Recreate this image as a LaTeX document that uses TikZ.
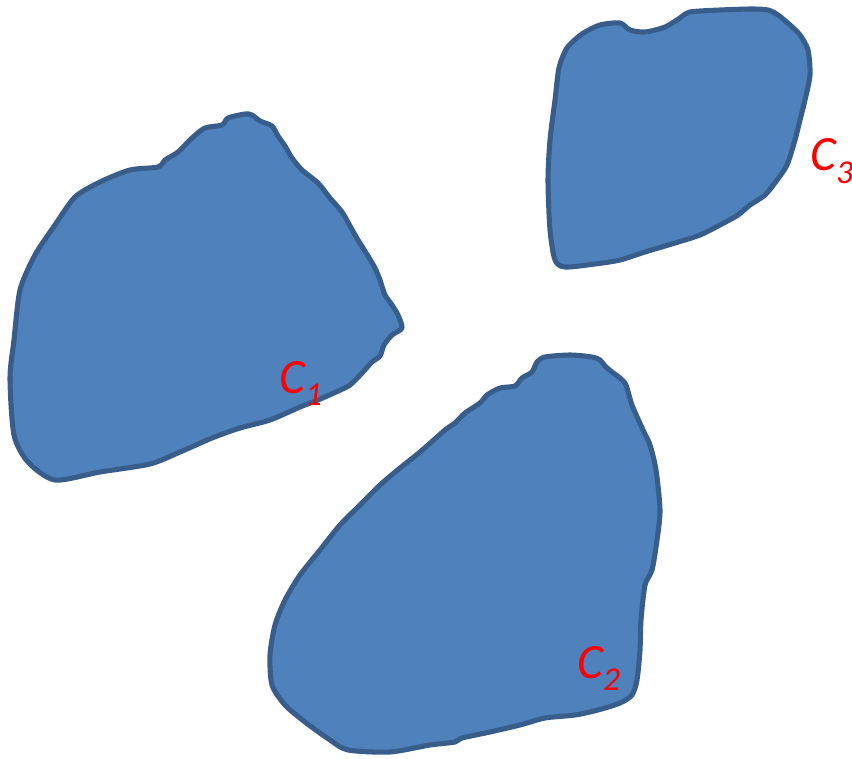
\documentclass[tikz,border=0pt]{standalone}
\usepackage{fontspec}
\setmainfont{Carlito}
\usepackage{tikz}
\definecolor{blobfill}{HTML}{4F81BD}
\definecolor{blobline}{HTML}{385D8A}
\tikzset{
  region/.style={fill=blobfill, draw=blobline, line width=3.8pt, line join=round},
  cname/.style={text=red, font=\fontsize{37}{40}\selectfont\itshape, inner sep=0pt}
}
\newcommand{\cidx}[1]{\raisebox{-0.25em}{\fontsize{25}{27}\selectfont #1}}
\begin{document}
\begin{tikzpicture}[x=0.75pt, y=-0.75pt]
                    \useasboundingbox (0,0) rectangle (852,759);
                    % Regions
                    \draw[region] plot[smooth cycle, tension=0.45] coordinates {
                      (55,480) (28,462) (14,435) (10,378) (14,340) (20,290) (35,255) (55,225)
                      (75,197) (100,182) (130,170) (158,167) (165,160) (178,152) (192,138)
                      (205,128) (222,125) (228,118) (245,114) (252,115) (260,121) (272,126)
                      (278,136) (285,146) (292,158) (302,170) (318,183) (330,198) (342,212)
                      (350,226) (358,240) (368,256) (375,268) (380,280) (385,295) (392,305)
                      (398,315) (402,328) (392,335) (384,345) (380,356) (372,362) (362,373)
                      (350,385) (336,392) (318,400) (300,407) (270,420) (240,428) (212,438)
                      (180,452) (150,464) (100,472)};
                    \draw[region] plot[smooth cycle, tension=0.45] coordinates {
                      (390,752) (430,745) (455,742) (462,738) (490,732) (520,725) (545,718)
                      (575,715) (598,710) (620,703) (632,695) (637,680) (640,650) (641,620)
                      (645,585) (652,570) (657,540) (660,510) (656,470) (650,445) (643,430)
                      (632,405) (626,385) (620,378) (612,372) (605,366) (600,360) (592,357)
                      (570,355) (545,357) (537,362) (532,372) (522,378) (515,386) (500,388)
                      (487,395) (480,403) (465,413) (455,423) (445,430) (420,452) (400,468)
                      (380,485) (360,505) (340,525) (320,550) (300,575) (285,600) (275,625)
                      (270,655) (272,685) (285,705) (305,722) (330,740) (348,750)};
                    \draw[region] plot[smooth cycle, tension=0.45] coordinates {
                      (565,267) (555,260) (550,230) (548,180) (550,140) (555,100) (559,68)
                      (567,48) (582,34) (600,25) (620,23) (630,30) (645,32) (665,27) (680,18)
                      (690,12) (720,10) (752,9) (768,10) (778,15) (790,25) (800,35) (808,50)
                      (810,75) (805,100) (800,120) (795,140) (787,165) (777,180) (765,195)
                      (750,205) (738,215) (720,225) (700,235) (675,243) (645,252) (620,260)
                      (595,264)};
                    % Labels
                    \node[cname, anchor=base west] (c1) at (279,393) {C\cidx{1}};
                    \node[cname, anchor=base west] (c2) at (577,678) {C\cidx{2}};
                    \node[cname, anchor=base west] (c3) at (810,171) {C\cidx{3}};
                \end{tikzpicture}
\end{document}
